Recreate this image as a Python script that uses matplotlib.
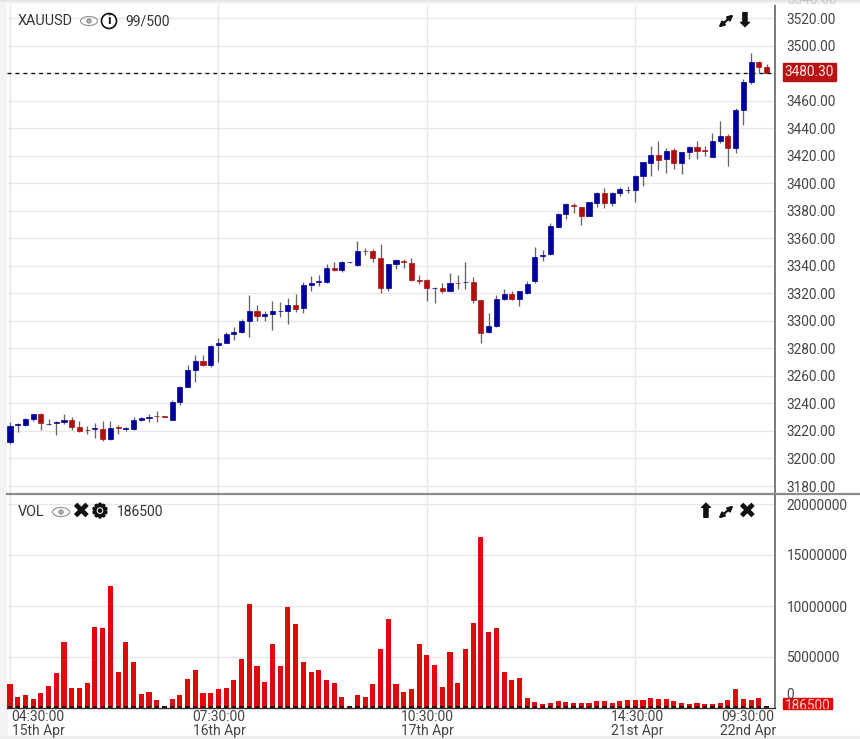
import matplotlib
matplotlib.use('Agg')
import matplotlib.pyplot as plt
import matplotlib.patheffects as pe
from matplotlib.patches import Rectangle, Ellipse, Circle
from matplotlib.lines import Line2D

W, H = 860, 739

opens = [3211.8, 3224, 3224.3, 3228.5, 3232.3, 3225, 3226, 3226.3, 3228, 3222.9,
         3220.8, 3221.2, 3221.7, 3213.9, 3222.9, 3221.2, 3221.4, 3228.2, 3229.6, 3231.2,
         3230.8, 3228.2, 3241.3, 3252.2, 3264.3, 3271.1, 3268, 3282.7, 3284.2, 3290.5,
         3292, 3300.2, 3307.2, 3303.6, 3304.8, 3307, 3307.5, 3311.8, 3309.2, 3326.1,
         3328, 3328.5, 3338.5, 3337, 3342.6, 3340.7, 3350.9, 3350.6, 3346, 3324.2,
         3341.2, 3343.8, 3342.1, 3329.5, 3329.5, 3323.8, 3324, 3321.8, 3327.7, 3328.2,
         3328.6, 3315.2, 3292, 3296.3, 3316, 3319.9, 3316.2, 3320.3, 3328.8, 3347.2,
         3348.4, 3368.5, 3377.7, 3384.5, 3382.8, 3376.5, 3385.7, 3392.8, 3385.7, 3393.2,
         3394.9, 3395.2, 3405.4, 3415, 3420.4, 3417.7, 3424.3, 3415.1, 3422.8, 3426.4,
         3423.9, 3418.9, 3430.8, 3434.7, 3426, 3453.3, 3473.7, 3488.2, 3484.4]
closes = [3223.6, 3225, 3228.7, 3232.3, 3225.6, 3225.3, 3226.5, 3228, 3223.2, 3220.2,
          3220.4, 3221.8, 3213.9, 3222.4, 3222.5, 3221.8, 3228, 3229.7, 3230, 3230.8,
          3230.5, 3241, 3252.2, 3264.3, 3270.9, 3268, 3281.8, 3283.7, 3290.5, 3292.2,
          3300.2, 3307.5, 3303.6, 3305, 3307.2, 3307.4, 3311.6, 3308.9, 3326.1, 3327.8,
          3328.7, 3338.5, 3336.8, 3343.1, 3342.7, 3350.8, 3350.6, 3346, 3324.2, 3341.2,
          3344.6, 3342.6, 3329.5, 3328.8, 3324.2, 3324, 3322, 3327.4, 3327.5, 3328.5,
          3315.2, 3291.5, 3296.3, 3316, 3319.9, 3316.2, 3321.8, 3326.9, 3346.7, 3348.2,
          3368.8, 3377.7, 3385, 3383.3, 3376.5, 3386.2, 3393, 3385.7, 3393, 3395.7,
          3395.1, 3405.6, 3415.3, 3420.4, 3417, 3423.8, 3415.1, 3423.1, 3426.7, 3423.8,
          3423.7, 3430.8, 3434.4, 3426, 3453.3, 3473.7, 3488, 3484.8, 3480.3]
highs = [3226.3, 3225.5, 3229.2, 3232.4, 3232.8, 3228.5, 3227.3, 3232.3, 3230.4, 3227.3,
         3223.6, 3226, 3227, 3227, 3224.4, 3223, 3230.4, 3229.9, 3232.3, 3234.3,
         3231, 3242.5, 3252.5, 3268, 3275.2, 3275.2, 3282.3, 3287.8, 3292, 3295.3,
         3301.2, 3318.9, 3311.3, 3307.2, 3314.5, 3313.5, 3316.9, 3319.6, 3328.1, 3332.9,
         3333.1, 3341.1, 3342.6, 3343.6, 3343, 3358.1, 3352.8, 3352.1, 3356, 3341.5,
         3344.8, 3344.8, 3346, 3333.4, 3330.3, 3325, 3327.4, 3335.1, 3333.2, 3342.9,
         3332.2, 3315.4, 3305.6, 3318.9, 3323, 3321.8, 3322, 3329.3, 3353.5, 3351.6,
         3371, 3378.2, 3385.5, 3386, 3383, 3386.7, 3393.5, 3396.4, 3393.7, 3397.6,
         3398.1, 3406.1, 3415.8, 3427.4, 3430.8, 3426, 3425.5, 3423.1, 3427.4, 3430.8,
         3427.2, 3436.4, 3445.3, 3435.6, 3454.5, 3475.9, 3495, 3488.7, 3486.8]
lows = [3210.5, 3219.5, 3223.9, 3227.5, 3220.7, 3224, 3217, 3224.8, 3220.7, 3219.5,
        3217.6, 3215, 3212.5, 3213.5, 3217.6, 3220.2, 3220.7, 3227, 3226.8, 3226.8,
        3230.3, 3228, 3239.1, 3252, 3255.9, 3267.5, 3266.8, 3269.9, 3284, 3286.1,
        3291.5, 3288.6, 3300.2, 3300.2, 3293.4, 3303.1, 3297.5, 3306.7, 3306, 3321.8,
        3325.4, 3327.3, 3336.5, 3335.3, 3342.3, 3340.2, 3347.9, 3342.6, 3320.6, 3321.6,
        3337.5, 3338.8, 3328.8, 3326.6, 3314.5, 3312.8, 3320.6, 3321.5, 3323, 3323,
        3312.8, 3284.2, 3291.5, 3295.9, 3315, 3315, 3311.1, 3319.6, 3327.9, 3343.8,
        3347.9, 3368, 3374.3, 3378.7, 3369.5, 3376, 3382.8, 3382.3, 3383.8, 3391,
        3392.8, 3386.5, 3398.1, 3405.4, 3409.7, 3407.8, 3410.5, 3406.8, 3418, 3418,
        3420.1, 3418.9, 3429.6, 3412.6, 3422.3, 3442.4, 3472.2, 3480.5, 3480]
volumes = [2320000, 1110000, 1240000, 880000, 1470000, 2160000, 3400000, 6500000, 1960000, 1960000,
           2450000, 7940000, 7840000, 11930000, 3530000, 6500000, 4510000, 1370000, 1570000, 780000,
           150000, 880000, 1240000, 2810000, 3760000, 1470000, 1470000, 1860000, 1960000, 2780000,
           4840000, 10230000, 4120000, 2550000, 6270000, 4120000, 9900000, 8200000, 4480000, 3530000,
           3760000, 2780000, 2450000, 1110000, 200000, 1270000, 1110000, 2320000, 5780000, 8690000,
           2320000, 1570000, 1860000, 6270000, 5200000, 4250000, 2060000, 5460000, 2450000, 5780000,
           8330000, 16730000, 7450000, 7840000, 3530000, 2780000, 2940000, 980000, 620000, 390000,
           490000, 650000, 560000, 520000, 520000, 490000, 650000, 650000, 520000, 650000,
           780000, 780000, 780000, 980000, 920000, 880000, 690000, 520000, 390000, 520000,
           360000, 420000, 520000, 780000, 1860000, 880000, 820000, 980000, 186500]

price_ticks = [3180, 3200, 3220, 3240, 3260, 3280, 3300, 3320, 3340, 3360, 3380, 3400,
               3420, 3440, 3460, 3480, 3500, 3520]
vol_ticks = [5000000, 10000000, 15000000, 20000000]
grid_idx = [0, 27, 54, 81]
time_labels = ['04:30:00', '07:30:00', '10:30:00', '14:30:00', '09:30:00']
date_labels = ['15th Apr', '16th Apr', '17th Apr', '21st Apr', '22nd Apr']
time_label_px = [38, 219, 427, 637, 748]
last_price = 3480.30
last_volume = 186500

UP = '#00009c'
DOWN = '#b00f0f'
WICK = '#666666'
GRID = '#e8e8e8'
TEXT = '#444444'
ICONS = 'DejaVu Sans'
ICON_COLOR = '#111111'

plt.rcParams['font.family'] = ['Roboto', 'DejaVu Sans']


def px_text(fig, x, y, s, **kw):
    # x, y in image pixels, origin top left
    kw.setdefault('color', TEXT)
    kw.setdefault('va', 'center')
    return fig.text(x / W, 1 - y / H, s, **kw)


def px_axes(fig, left, top, right, bottom):
    return fig.add_axes([left / W, 1 - bottom / H, (right - left) / W, (bottom - top) / H])


def eye(fig, x, y):
    tr = fig.dpi_scale_trans
    k = 1 / fig.dpi
    fig.add_artist(Ellipse((x * k, (H - y) * k), 17 * k, 9 * k, fc='none', ec='#909090', lw=0.8, transform=tr))
    fig.add_artist(Circle((x * k, (H - y) * k), 2.2 * k, fc='#b0b0b0', ec='#808080', lw=0.6, transform=tr))


def expand_icon(fig, x, y):
    # the double arrow has no glyph in the installed fonts
    fig.add_artist(matplotlib.patches.FancyArrowPatch(
        ((x - 7.5) / W, 1 - (y + 6.5) / H), ((x + 7.5) / W, 1 - (y - 6.5) / H),
        transform=fig.transFigure, arrowstyle='<|-|>', mutation_scale=7.5, lw=1.6,
        color=ICON_COLOR, shrinkA=0, shrinkB=0))


def icon(fig, x, y, s, size, stroke=0.0):
    t = px_text(fig, x, y, s, ha='center', family=ICONS, color=ICON_COLOR, fontsize=size)
    if stroke:
        t.set_path_effects([pe.withStroke(linewidth=stroke, foreground=ICON_COLOR)])
    return t


def main():
    fig = plt.figure(figsize=(W / 100, H / 100), dpi=100, facecolor='white')
    ax1 = px_axes(fig, 7, 5, 775, 494)
    ax2 = px_axes(fig, 7, 494, 775, 708)

    x = list(range(len(opens)))
    xlim = (-0.389, 99.1)

    # candles
    colors = [UP if c >= o else DOWN for o, c in zip(opens, closes)]
    ax1.vlines(x, lows, highs, color=WICK, lw=0.95, zorder=2)
    ax1.bar(x, [c - o for o, c in zip(opens, closes)], bottom=opens, width=0.66,
            color=colors, edgecolor=colors, lw=0.5, zorder=3)
    ax1.axhline(last_price, color='#111111', lw=0.95, ls=(0, (3, 3)), zorder=4)
    ax1.set_xlim(xlim)
    ax1.set_ylim(3180 - 8 / 1.3756, 3180 + 481 / 1.3756)
    ax1.set_yticks(price_ticks)
    # 3480 sits under the last price tag
    ax1.set_yticklabels(['' if p == 3480 else '%.2f' % p for p in price_ticks])

    # volume
    ax2.bar(x, volumes, width=0.66, color='#e00a0c', zorder=3)
    ax2.bar(x, [170000] * len(x), width=0.55, color='#300a0a', zorder=4)
    ax2.set_xlim(xlim)
    ax2.set_ylim(0, 214 * 5000000 / 51)
    ax2.set_yticks(vol_ticks)
    ax2.set_yticklabels([str(v) for v in vol_ticks])

    for ax in (ax1, ax2):
        ax.set_xticks(grid_idx)
        ax.set_xticklabels([])
        ax.grid(True, color=GRID, lw=1.0, zorder=0)
        ax.set_axisbelow(True)
        ax.yaxis.tick_right()
        ax.tick_params(length=0, labelsize=9.8, labelcolor=TEXT, pad=8.5)
        for name in ('top', 'left', 'bottom'):
            ax.spines[name].set_visible(False)
        ax.spines['right'].set_color('#555555')
        ax.spines['right'].set_linewidth(1.1)

    ax2.axhline(0, color='#333333', lw=1.0, zorder=5, clip_on=False)

    # pane separator
    fig.add_artist(Line2D([7 / W, 1], [1 - 494 / H] * 2, color='#8c8c8c', lw=1.6))

    # time axis labels
    for px, t, d in zip(time_label_px, time_labels, date_labels):
        px_text(fig, px, 717, t, ha='center', fontsize=10)
        px_text(fig, px, 731, d, ha='center', fontsize=10)

    # clipped top price label
    px_text(fig, 787, 0, '3540.00', fontsize=9.8)

    # last price tag
    fig.add_artist(Rectangle((783 / W, 1 - 81 / H), 53 / W, 18 / H, color='#b81212', transform=fig.transFigure))
    px_text(fig, 809.5, 72.5, '%.2f' % last_price, color='#fbe8e8', ha='center', fontsize=9.8)

    # volume tag, its text is cut by the box
    px_text(fig, 790, 695, '0', ha='center', fontsize=9.8)
    tag = Rectangle((783 / W, 1 - 708.5 / H), 49 / W, 11 / H, color='#e00a0c', transform=fig.transFigure)
    fig.add_artist(tag)
    vol_txt = px_text(fig, 807.5, 706, str(last_volume), color='#f7c8c8', ha='center', fontsize=9.8)
    vol_txt.set_clip_path(tag)

    # pane headers
    px_text(fig, 18, 21, 'XAUUSD', fontsize=10.4, color='#333333')
    eye(fig, 89, 21)
    k = 1 / fig.dpi
    fig.add_artist(Circle((109 * k, (H - 21) * k), 7.5 * k, fc='white', ec=ICON_COLOR, lw=1.2,
                          transform=fig.dpi_scale_trans))
    px_text(fig, 109, 21, 'i', ha='center', color=ICON_COLOR, fontsize=9.5, fontweight='bold')
    px_text(fig, 125, 21, '99/500', fontsize=10, color='#333333')
    expand_icon(fig, 726, 21)
    icon(fig, 745, 21, '\u2b07', 14, 0.6)

    px_text(fig, 18, 512, 'VOL', fontsize=10.4, color='#333333')
    eye(fig, 61, 512)
    icon(fig, 80, 512, '\u2716', 16)
    icon(fig, 100, 512, '\u2699', 14, 1.2)
    px_text(fig, 117, 512, str(last_volume), fontsize=10, color='#333333')
    icon(fig, 706, 512, '\u2b06', 14, 0.6)
    expand_icon(fig, 726, 512)
    icon(fig, 746, 512, '\u2716', 16)

    # soft browser shadows at the edges
    fig.add_artist(Rectangle((0, 0), 7 / W, 1, color='#f3f3f3', transform=fig.transFigure, zorder=-1))
    fig.add_artist(Rectangle((0, 0), 1, 3 / H, color='#efefef', transform=fig.transFigure, zorder=-1))
    for i, c in enumerate(['#dcdcdc', '#e6e6e6', '#eeeeee', '#f5f5f5', '#fafafa']):
        fig.add_artist(Rectangle((0, 1 - (i + 1) / H), 1, 1 / H, fc=c, ec='none', alpha=0.8,
                                 transform=fig.transFigure, zorder=5))

    fig.savefig('out.png', dpi=100)


if __name__ == '__main__':
    main()
